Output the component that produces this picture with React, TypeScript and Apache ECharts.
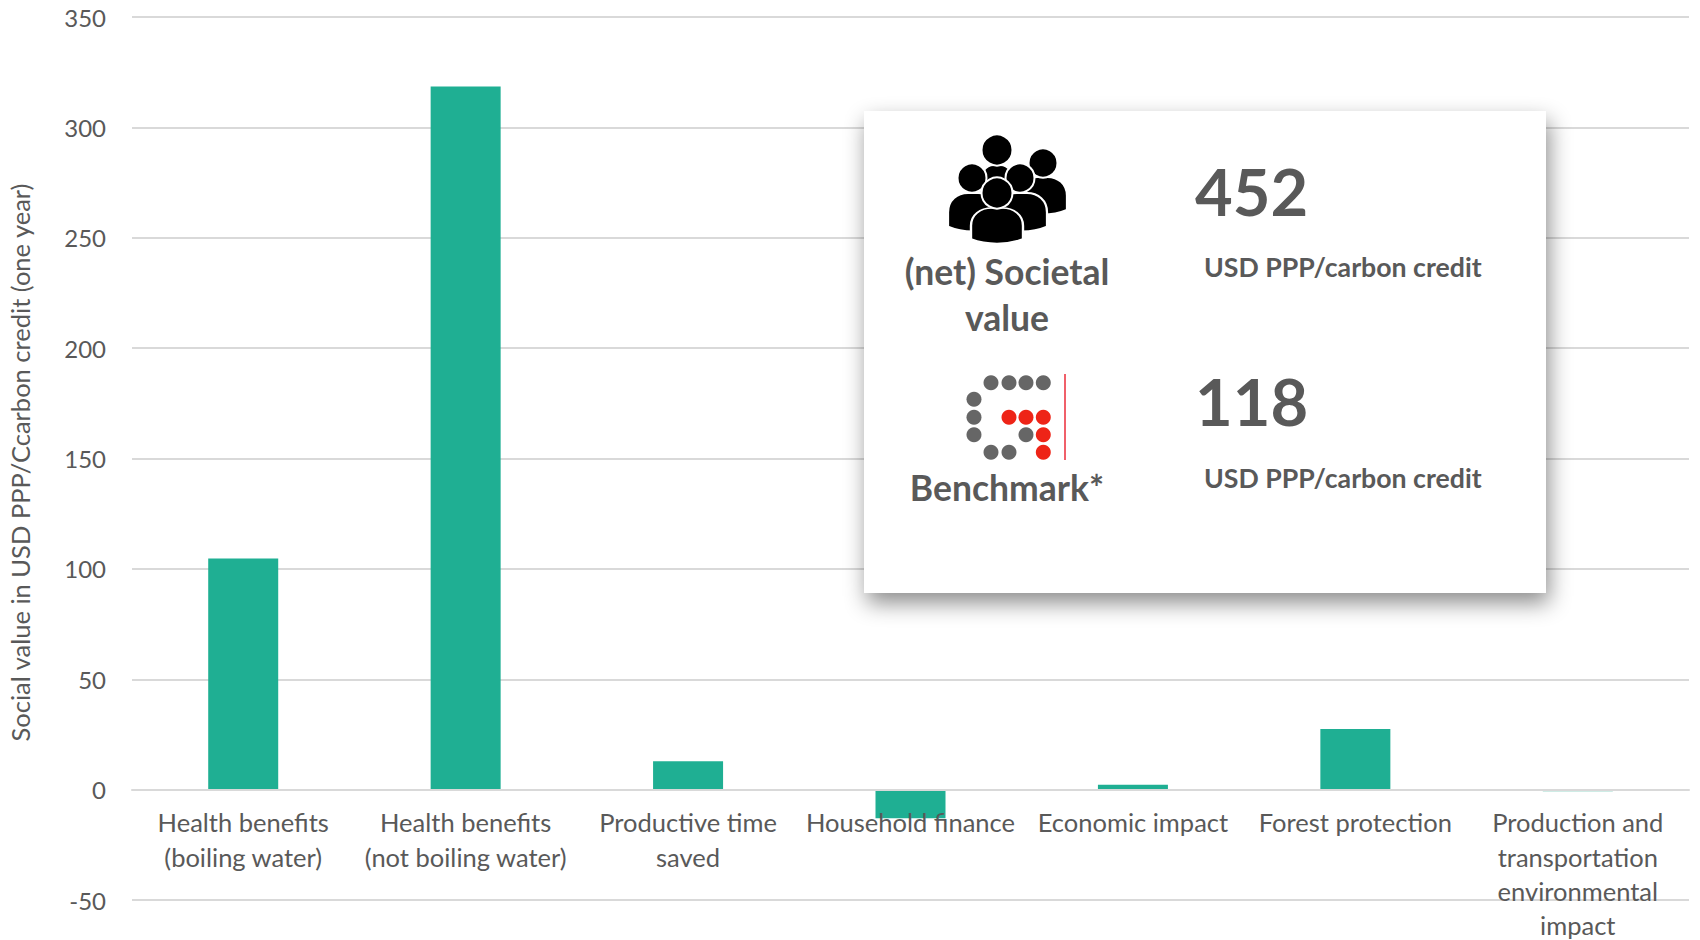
import React, { useEffect, useRef } from "react";
import * as echarts from "echarts";

const categories = [
  "Health benefits\n(boiling water)",
  "Health benefits\n(not boiling water)",
  "Productive time\nsaved",
  "Household finance",
  "Economic impact",
  "Forest protection",
  "Production and\ntransportation\nenvironmental\nimpact",
];
const socialValues = [104.7, 318.5, 12.8, -13, 2.2, 27.5, -1];
const yName = "Social value in USD PPP/Ccarbon credit (one year)";
const FONT = "Lato";
const GREY = "#595959";
const TEAL = "#1FAF93";

const BODY =
  "M0 84 L0 48 C0 18 18 0 40 0 L60 0 C82 0 100 18 100 48 L100 84 C70 100 30 100 0 84 Z";
echarts.graphic.registerShape("personBody", echarts.graphic.extendPath(BODY, {}) as any);

function person(cx: number, cy: number, r: number, bx: number, by: number, bw: number, bh: number, z: number) {
  return [
    {
      type: "personBody",
      z,
      x: bx,
      y: by,
      scaleX: bw / 100,
      scaleY: bh / 100,
      style: { fill: "#000", stroke: "#fff", lineWidth: 2, strokeNoScale: true },
    },
    { type: "circle", z: z + 1, shape: { cx, cy, r }, style: { fill: "#000", stroke: "#fff", lineWidth: 2 } },
  ];
}

const greyDots = [
  [991, 382.7], [1009, 382.7], [1026, 382.7], [1043.3, 382.7],
  [974, 399.3], [974, 417.3], [974, 434.7], [1026, 434.7],
  [991, 452.3], [1009, 452.3],
];
const redDots = [
  [1009, 417.3], [1026, 417.3], [1043.3, 417.3], [1043.3, 434.7], [1043.3, 452.3],
];

function txt(text: string, x: number, y: number, size: number, align: string = "left") {
  return {
    type: "text",
    z: 80,
    x,
    y,
    style: {
      text,
      fontFamily: FONT,
      fontWeight: "bold",
      fontSize: size,
      fill: GREY,
      align,
      verticalAlign: "middle",
    },
  };
}

export default function App() {
  const ref = useRef<HTMLDivElement>(null);
  useEffect(() => {
    document.body.style.margin = "0";
    const chart = echarts.init(ref.current!, null, { renderer: "svg" });
    chart.setOption({
      animation: false,
      backgroundColor: "#fff",
      grid: { left: 132, right: 11, top: 17, bottom: 40, containLabel: false, outerBoundsMode: "none" },
      xAxis: {
        type: "category",
        data: categories,
        z: 5,
        axisLine: { onZero: true, lineStyle: { color: "#d9d9d9", width: 2 } },
        axisTick: { show: false },
        axisLabel: {
          interval: 0,
          margin: -95,
          color: GREY,
          fontFamily: FONT,
          fontSize: 25.5,
          lineHeight: 34.4,
          verticalAlign: "top",
        },
      },
      yAxis: {
        type: "value",
        min: -50,
        max: 350,
        interval: 50,
        name: yName,
        nameLocation: "middle",
        nameGap: 99,
        nameRotate: 90,
        nameTextStyle: { color: GREY, fontFamily: FONT, fontSize: 25.5, padding: [0, 8, 0, 0] },
        axisLine: { show: false },
        axisTick: { show: false },
        axisLabel: { color: GREY, fontFamily: FONT, fontSize: 24, margin: 26 },
        splitLine: { lineStyle: { color: "#d9d9d9", width: 2 } },
      },
      series: [
        {
          type: "bar",
          barWidth: 70,
          data: socialValues.map((v, i) =>
            i === socialValues.length - 1
              ? { value: v, itemStyle: { color: "#BFE6DE" } }
              : v
          ),
          itemStyle: { color: TEAL },
        },
      ],
      graphic: {
        elements: [
          {
            type: "rect",
            z: 50,
            shape: { x: 864, y: 111, width: 682, height: 482 },
            style: {
              fill: "#fff",
              shadowBlur: 22,
              shadowOffsetX: 3,
              shadowOffsetY: 10,
              shadowColor: "rgba(0,0,0,0.45)",
            },
          },
          ...person(1043, 163, 14.5, 1018, 177, 49, 39, 51),
          ...person(997, 150, 15.5, 980, 165, 34, 40, 53),
          ...person(972, 178, 14.5, 948, 193, 50, 40, 55),
          ...person(1020, 178, 14.5, 997, 193, 50, 40, 57),
          ...person(997, 193, 15.5, 971, 208, 52, 37, 59),
          ...greyDots.map(([cx, cy]) => ({
            type: "circle",
            z: 70,
            shape: { cx, cy, r: 7.5 },
            style: { fill: "#666666" },
          })),
          ...redDots.map(([cx, cy]) => ({
            type: "circle",
            z: 70,
            shape: { cx, cy, r: 7.5 },
            style: { fill: "#EE2417" },
          })),
          {
            type: "line",
            z: 70,
            shape: { x1: 1065, y1: 374, x2: 1065, y2: 460 },
            style: { stroke: "#F0606A", lineWidth: 2 },
          },
          txt("452", 1195, 191, 65),
          txt("118", 1195, 401, 65),
          txt("USD PPP/carbon credit", 1204, 267, 26.7),
          txt("USD PPP/carbon credit", 1204, 478, 26.7),
          txt("(net) Societal", 1007, 271, 35.5, "center"),
          txt("value", 1007, 317, 35.5, "center"),
          txt("Benchmark*", 1007, 487, 35.5, "center"),
        ],
      },
    });
    return () => chart.dispose();
  }, []);
  return <div ref={ref} style={{ width: 1700, height: 940 }} />;
}
